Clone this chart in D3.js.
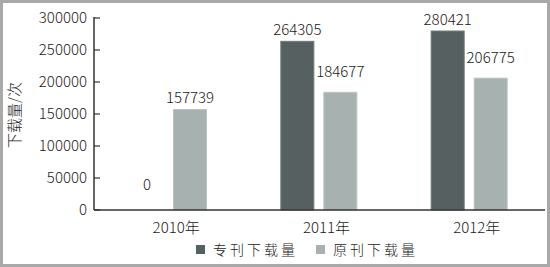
<!DOCTYPE html>
<html><head><meta charset="utf-8">
<script src="https://cdn.jsdelivr.net/npm/d3@7"></script>
<style>html,body{margin:0;padding:0;background:#fff}svg{display:block}text{font-family:"Noto Sans CJK SC","DejaVu Sans",sans-serif;font-weight:300;fill:#1a1a1a}</style>
</head><body><svg id="c" width="550" height="267"></svg>
<script>
const categories = ["2010年", "2011年", "2012年"];
const seriesNames = ["专刊下载量", "原刊下载量"];
const specialValues = [0, 264305, 280421];
const originalValues = [157739, 184677, 206775];
const yTicks = [0, 50000, 100000, 150000, 200000, 250000, 300000];
const yTitle = "下载量/次";

const colors = ["#566060", "#a7b1b0"];
const strokes = ["#6e7878", "#bcc4c3"];
const svg = d3.select("#c");
svg.append("rect").attr("x",1.5).attr("y",1.5).attr("width",547).attr("height",264)
  .attr("fill","#fff").attr("stroke","#a9a9a9").attr("stroke-width",3);

const x0 = d3.scaleBand().domain(categories).range([94, 545]).padding(0);
const x1 = d3.scaleBand().domain(seriesNames).range([36, 113]).paddingInner(9/43).paddingOuter(0);
const y = d3.scaleLinear().domain([0, 300000]).range([210, 18]);

const data = categories.map((c,i)=>({cat:c, vals:[specialValues[i], originalValues[i]]}));

const g = svg.append("g");
data.forEach((d,i)=>{
  d.vals.forEach((v,j)=>{
    const bx = x0(d.cat) + x1(seriesNames[j]);
    const bw = x1.bandwidth();
    if (v > 0) {
      g.append("rect").attr("x",bx+0.5).attr("y",y(v)+0.5).attr("width",bw-1).attr("height",y(0)-y(v)-0.5)
        .attr("fill",colors[j]).attr("stroke",strokes[j]).attr("stroke-width",1);
    }
    let dy = 6;
    if (v === 0) dy = 20;
    else if (j===1 && d.vals[0] > 0 && d.vals[0] - v > 50000) dy = 15;
    g.append("text").attr("x",bx+bw/2).attr("y",y(v)-dy).attr("text-anchor","middle")
      .attr("font-size",15).text(v);
  });
});

// y axis
const ya = svg.append("g").attr("transform","translate(94,0)");
ya.append("line").attr("x1",0).attr("x2",0).attr("y1",y(300000)-1).attr("y2",y(0)).attr("stroke","#333").attr("stroke-width",1.5);
yTicks.forEach(t=>{
  ya.append("line").attr("x1",0).attr("x2",6).attr("y1",y(t)).attr("y2",y(t)).attr("stroke","#333").attr("stroke-width",1.2);
  ya.append("text").attr("x",-7).attr("y",y(t)).attr("dy","0.35em").attr("text-anchor","end").attr("font-size",15).text(t);
});
// x axis
svg.append("line").attr("x1",94).attr("x2",545).attr("y1",y(0)).attr("y2",y(0)).attr("stroke","#333").attr("stroke-width",1.5);
categories.forEach(c=>{
  svg.append("text").attr("x",x0(c)+x0.bandwidth()/2+7).attr("y",233).attr("text-anchor","middle").attr("font-size",15).text(c);
});
// y title
svg.append("text").attr("transform","translate(20,115) rotate(-90)").attr("text-anchor","middle").attr("font-size",15).text(yTitle);

// legend
const lx = [196, 316];
seriesNames.forEach((s,j)=>{
  svg.append("rect").attr("x",lx[j]).attr("y",245).attr("width",9).attr("height",9).attr("fill",colors[j]);
  svg.append("text").attr("x",lx[j]+17).attr("y",255).attr("font-size",14).attr("letter-spacing",3).text(s);
});
</script></body></html>
